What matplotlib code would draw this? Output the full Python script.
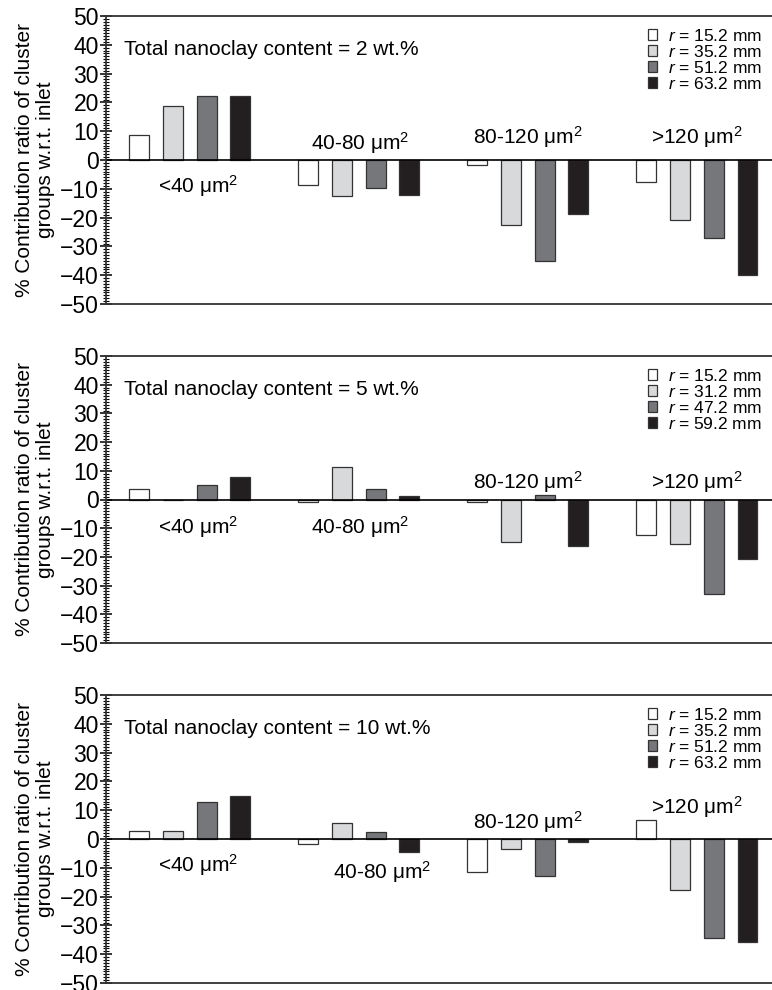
import numpy as np
import matplotlib.pyplot as plt
from matplotlib.ticker import MultipleLocator

plt.rcParams['font.family'] = ['Liberation Sans', 'DejaVu Sans']
plt.rcParams['mathtext.fontset'] = 'custom'
plt.rcParams['mathtext.rm'] = 'Liberation Sans'
plt.rcParams['mathtext.it'] = 'Liberation Sans:italic'

# size groups of clusters
categories = ['<40 μm$^2$', '40-80 μm$^2$', '80-120 μm$^2$', '>120 μm$^2$']

# nanoclay contents and radii for each panel
contents = ['2', '5', '10']
radii = [['15.2', '35.2', '51.2', '63.2'],
         ['15.2', '31.2', '47.2', '59.2'],
         ['15.2', '35.2', '51.2', '63.2']]

# values: rows = radius, columns = size group
vals_2 = [[8.7, -8.7, -1.7, -7.8],
          [18.8, -12.4, -22.6, -21.0],
          [22.2, -9.7, -35.0, -27.1],
          [22.2, -12.3, -18.6, -40.0]]
vals_5 = [[3.7, -0.7, -0.9, -12.4],
          [0.0, 11.2, -14.8, -15.6],
          [4.9, 3.7, 1.6, -33.0],
          [7.8, 1.2, -16.3, -20.8]]
vals_10 = [[2.7, -1.7, -11.3, 6.5],
           [2.8, 5.4, -3.6, -17.6],
           [13.0, 2.4, -13.0, -34.3],
           [14.9, -4.6, -0.9, -35.6]]
all_vals = [vals_2, vals_5, vals_10]

# category label positions (x in group units, y in data units) per panel
label_pos = [[(0.35, -9.0), (1.31, 6.0), (2.30, 8.0), (3.30, 8.0)],
             [(0.35, -9.7), (1.31, -9.7), (2.30, 6.0), (3.30, 6.0)],
             [(0.35, -9.0), (1.44, -11.5), (2.30, 6.0), (3.30, 11.0)]]

colors = ['white', '#d8d9db', '#76777b', '#231f20']

fig = plt.figure(figsize=(7.72, 9.9), dpi=100)
tops = [16, 356, 695]
bots = [304, 643, 983]
groups = np.arange(4)

for p in range(3):
    ax = fig.add_axes([106/772, 1 - bots[p]/990, 1 - 106/772, (bots[p]-tops[p])/990])
    for i in range(4):
        ax.bar(groups + 0.2*i, all_vals[p][i], width=0.118, color=colors[i],
               edgecolor='#333333', linewidth=0.9,
               label='$r$ = %s mm' % radii[p][i])
    ax.axhline(0, color='black', linewidth=1.2)
    ax.set_xlim(-0.195, 3.745)
    ax.set_ylim(-50, 50)
    ax.yaxis.set_major_locator(MultipleLocator(10))
    ax.yaxis.set_minor_locator(MultipleLocator(1))
    ax.tick_params(axis='y', which='major', direction='inout', length=8, width=1.1, labelsize=16.5, pad=1)
    ax.tick_params(axis='y', which='minor', direction='inout', length=5, width=0.8)
    ax.set_xticks([])
    ax.spines['right'].set_visible(False)
    for s in ['top', 'bottom', 'left']:
        ax.spines[s].set_color('#333333')
        ax.spines[s].set_linewidth(1.3)
    ax.set_ylabel('% Contribution ratio of cluster\ngroups w.r.t. inlet', fontsize=15,
                  labelpad=4, linespacing=1.1)
    ax.text(-0.088, 38.5, 'Total nanoclay content = %s wt.%%' % contents[p],
            fontsize=15, ha='left', va='center')
    for c in range(4):
        ax.text(label_pos[p][c][0], label_pos[p][c][1], categories[c],
                fontsize=15, ha='center', va='center')
    ax.legend(loc='upper right', bbox_to_anchor=(1.0, 0.995), frameon=False,
              fontsize=12.5, handlelength=0.5, handleheight=0.6, handletextpad=0.6,
              labelspacing=0.0, borderaxespad=0.2)

fig.savefig('out.png', dpi=100)
